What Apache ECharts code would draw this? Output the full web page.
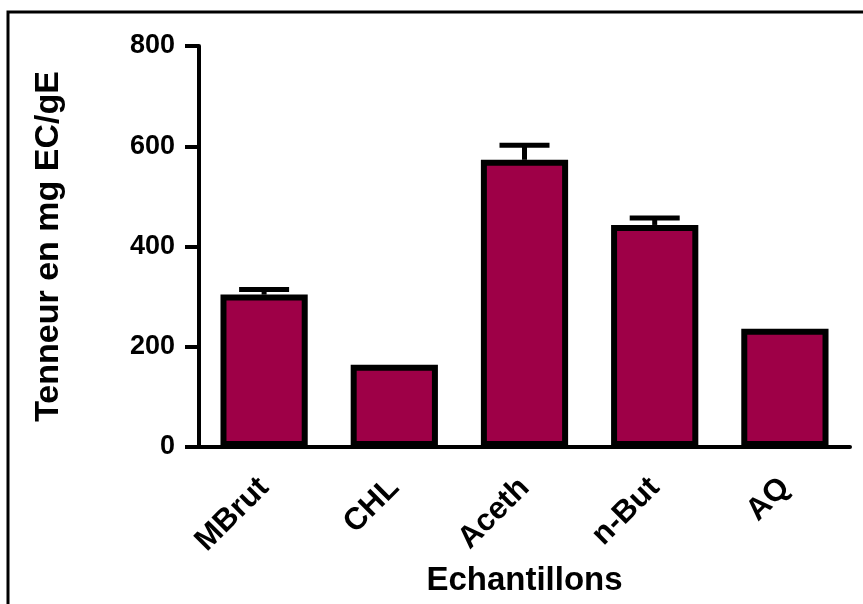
<!DOCTYPE html>
<html>
<head>
<meta charset="utf-8">
<script src="https://cdn.jsdelivr.net/npm/echarts@6/dist/echarts.min.js"></script>
<style>
  html, body { margin: 0; padding: 0; background: #fff; }
  #chart { width: 863px; height: 604px; }
</style>
</head>
<body>
<div id="chart"></div>
<script>
// Samples and their mean content (mg EC/gE) with upper error (SEM)
const categories = ['MBrut', 'CHL', 'Aceth', 'n-But', 'AQ'];
const means = [304, 164, 573, 443, 236];
const errors = [10, 0, 29, 14, 0];
const yTicks = [0, 200, 400, 600, 800];

const FONT = '"Liberation Sans", Arial, sans-serif';
const chart = echarts.init(document.getElementById('chart'));

const errorData = categories.map((c, i) => [i, means[i], means[i] + errors[i]]);

chart.setOption({
  animation: false,
  graphic: [{
    type: 'rect',
    shape: { x: 8, y: 12, width: 900, height: 700 },
    style: { fill: 'none', stroke: '#000', lineWidth: 3 },
    silent: true
  }],
  grid: { left: 199, right: 13, top: 46, bottom: 157 },
  xAxis: {
    type: 'category',
    data: categories,
    boundaryGap: true,
    name: 'Echantillons',
    nameLocation: 'middle',
    nameGap: 113,
    nameTextStyle: { fontFamily: FONT, fontWeight: 'bold', fontSize: 33, color: '#000' },
    axisLine: { lineStyle: { color: '#000', width: 4 } },
    axisTick: { alignWithLabel: true, length: 11, lineStyle: { color: '#000', width: 4 } },
    axisLabel: { rotate: 45, margin: 36, fontFamily: FONT, fontWeight: 'bold', fontSize: 31, color: '#000' }
  },
  yAxis: {
    type: 'value',
    min: 0, max: 800, interval: 200,
    name: 'Tenneur en mg EC/gE',
    nameLocation: 'middle',
    nameGap: 133,
    nameRotate: 90,
    nameTextStyle: { fontFamily: FONT, fontWeight: 'bold', fontSize: 34, color: '#000' },
    splitLine: { show: false },
    axisLine: { show: true, lineStyle: { color: '#000', width: 4 } },
    axisTick: { show: true, length: 14, lineStyle: { color: '#000', width: 4 } },
    axisLabel: {
      margin: 24, fontFamily: FONT, fontWeight: 'bold', fontSize: 27, color: '#000',
      formatter: v => yTicks.includes(v) ? String(v) : ''
    }
  },
  series: [{
    type: 'bar',
    data: means,
    barWidth: '67%',
    itemStyle: { color: '#9E0047', borderColor: '#000', borderWidth: 6 },
    z: 2
  }, {
    type: 'custom',
    data: errorData,
    z: 3,
    renderItem: function (params, api) {
      const x = api.coord([api.value(0), api.value(1)])[0];
      const yBase = api.coord([api.value(0), api.value(1)])[1];
      const yTop = api.coord([api.value(0), api.value(2)])[1];
      if (yBase - yTop < 0.5) return null;
      const half = 25;
      const style = { stroke: '#000', lineWidth: 5 };
      return {
        type: 'group',
        children: [
          { type: 'line', shape: { x1: x, y1: yBase, x2: x, y2: yTop }, style: style },
          { type: 'line', shape: { x1: x - half, y1: yTop, x2: x + half, y2: yTop }, style: style }
        ]
      };
    }
  }]
});
</script>
</body>
</html>
